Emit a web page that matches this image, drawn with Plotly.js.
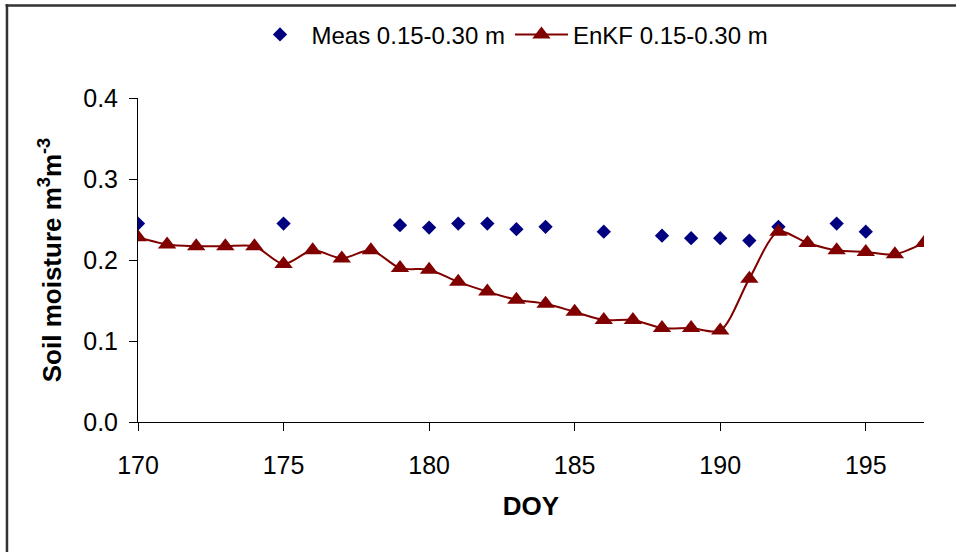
<!DOCTYPE html>
<html>
<head>
<meta charset="utf-8">
<script src="https://cdn.plot.ly/plotly-3.0.1.min.js"></script>
<style>
html,body{margin:0;padding:0;background:#fff;overflow:hidden;}
#chart{width:956px;height:552px;}
</style>
</head>
<body>
<div id="chart"></div>
<script>
// Measured soil moisture (0.15-0.30 m)
const measDoy = [170, 175, 179, 180, 181, 182, 183, 184, 186, 188, 189, 190, 191, 192, 194, 195];
const measVal = [0.245, 0.245, 0.243, 0.240, 0.245, 0.245, 0.238, 0.241, 0.235, 0.230, 0.227, 0.227, 0.224, 0.241, 0.245, 0.235];

// EnKF estimate (0.15-0.30 m)
const enkfDoy = [170, 171, 172, 173, 174, 175, 176, 177, 178, 179, 180, 181, 182, 183, 184, 185, 186, 187, 188, 189, 190, 191, 192, 193, 194, 195, 196, 197];
const enkfVal = [0.228, 0.219, 0.217, 0.217, 0.217, 0.195, 0.212, 0.202, 0.212, 0.190, 0.188, 0.173, 0.161, 0.151, 0.146, 0.136, 0.126, 0.126, 0.116, 0.116, 0.113, 0.177, 0.235, 0.221, 0.212, 0.210, 0.207, 0.221];

const seriesNames = ['Meas 0.15-0.30 m', 'EnKF 0.15-0.30 m'];
const xTitle = 'DOY';
const yTitle = 'Soil moisture m<sup>3</sup>m<sup>-3</sup>';

const FONT = '"Liberation Sans", Arial, sans-serif';

const traces = [
  {
    x: measDoy, y: measVal, name: seriesNames[0],
    type: 'scatter', mode: 'markers',
    marker: {symbol: 'diamond', size: 11, color: '#000080'}
  },
  {
    x: enkfDoy, y: enkfVal, name: seriesNames[1],
    type: 'scatter', mode: 'lines+markers',
    line: {color: '#800000', width: 2, shape: 'spline', smoothing: 0.8},
    marker: {symbol: 'triangle-up', size: 16, color: '#800000'}
  }
];

const layout = {
  width: 956, height: 552,
  margin: {l: 138, r: 32, t: 98, b: 130},
  paper_bgcolor: '#ffffff', plot_bgcolor: '#ffffff',
  font: {family: FONT, color: '#000', size: 24},
  showlegend: true,
  legend: {
    orientation: 'h', x: 0.1406, y: 1.195, xanchor: 'left', yanchor: 'middle',
    font: {family: FONT, size: 24, color: '#000'},
    bgcolor: 'rgba(0,0,0,0)', itemwidth: 53, tracegroupgap: 0
  },
  xaxis: {
    range: [170, 197], tick0: 170, dtick: 5, autorange: false,
    showline: true, linecolor: '#000', linewidth: 1,
    ticks: 'outside', ticklen: 8, tickcolor: '#000', tickwidth: 1,
    showgrid: false, zeroline: false,
    tickfont: {family: FONT, size: 25, color: '#000'},
    ticklabelstandoff: 13,
    title: {text: '<b>' + xTitle + '</b>', font: {family: FONT, size: 26, color: '#000'}, standoff: 18},
    automargin: false
  },
  yaxis: {
    range: [0, 0.4], tick0: 0, dtick: 0.1, autorange: false, tickformat: '.1f',
    showline: true, linecolor: '#000', linewidth: 1,
    ticks: 'outside', ticklen: 8, tickcolor: '#000', tickwidth: 1,
    showgrid: false, zeroline: false,
    tickfont: {family: FONT, size: 25, color: '#000'},
    ticklabelstandoff: 6,
    title: {text: '<b>' + yTitle + '</b>', font: {family: FONT, size: 26, color: '#000'}, standoff: 14},
    automargin: false
  },
  shapes: [
    {type: 'line', xref: 'paper', yref: 'paper', x0: -0.1667, x1: -0.1667, y0: 1.29, y1: -0.5,
     line: {color: '#333333', width: 2.5}},
    {type: 'line', xref: 'paper', yref: 'paper', x0: -0.1685, x1: 1.2, y0: 1.2855, y1: 1.2855,
     line: {color: '#333333', width: 2.5}}
  ]
};

Plotly.newPlot('chart', traces, layout, {displayModeBar: false, staticPlot: true});
</script>
</body>
</html>
